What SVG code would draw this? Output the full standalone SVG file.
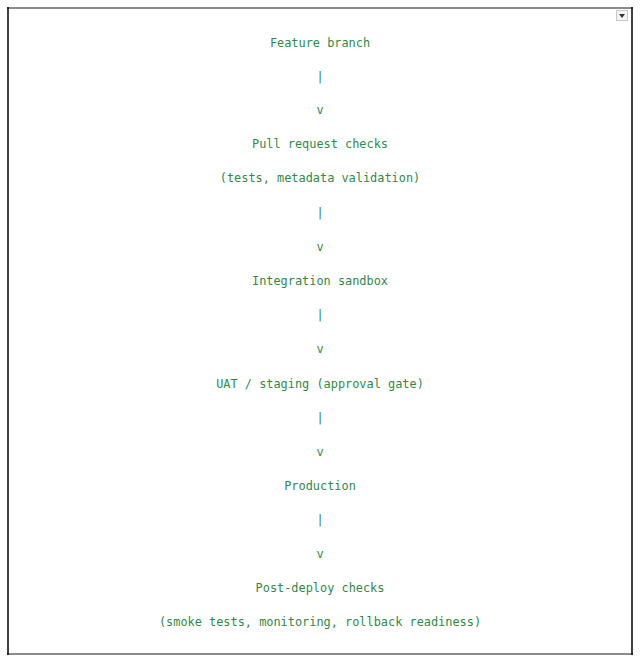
<svg xmlns="http://www.w3.org/2000/svg" width="640" height="664" viewBox="0 0 640 664">
<style>
.t{font-family:"DejaVu Sans Mono","Liberation Mono",monospace;font-size:11.9px;fill:#2f8a46;text-anchor:middle}
</style>
<rect width="640" height="664" fill="#ffffff"/>
<g id="frame">
<line x1="7" y1="8" x2="633" y2="8" stroke="#8a8a8a" stroke-width="2"/>
<line x1="7" y1="654" x2="633" y2="654" stroke="#8a8a8a" stroke-width="2"/>
<line x1="8" y1="7" x2="8" y2="655" stroke="#000" stroke-width="1.5"/>
<line x1="632" y1="7" x2="632" y2="655" stroke="#000" stroke-width="1.5"/>
<rect x="616.5" y="10.5" width="11" height="10" fill="#f4f4f4" stroke="#c8c8c8" stroke-width="1"/>
<polygon points="619,14 625,14 622,18" fill="#333"/>
</g>
<g id="node-feature"><text class="t" x="320" y="47">Feature branch</text></g>
<g id="connectors">
<text class="t" x="320" y="81">|</text>
<text class="t" x="320" y="114">v</text>
<text class="t" x="320" y="217">|</text>
<text class="t" x="320" y="251">v</text>
<text class="t" x="320" y="319">|</text>
<text class="t" x="320" y="353">v</text>
<text class="t" x="320" y="422">|</text>
<text class="t" x="320" y="456">v</text>
<text class="t" x="320" y="524">|</text>
<text class="t" x="320" y="558">v</text>
</g>
<g id="node-pr"><text class="t" x="320" y="148">Pull request checks</text><text class="t" x="320" y="182">(tests, metadata validation)</text></g>
<g id="node-integration"><text class="t" x="320" y="285">Integration sandbox</text></g>
<g id="node-uat"><text class="t" x="320" y="388">UAT / staging (approval gate)</text></g>
<g id="node-production"><text class="t" x="320" y="490">Production</text></g>
<g id="node-postdeploy"><text class="t" x="320" y="592">Post-deploy checks</text><text class="t" x="320" y="626">(smoke tests, monitoring, rollback readiness)</text></g>
</svg>
